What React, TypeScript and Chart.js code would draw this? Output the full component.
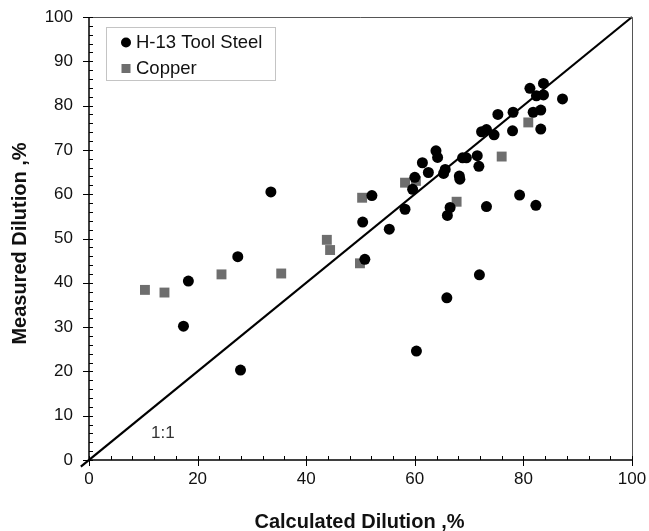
import React, { useEffect, useRef } from "react";
import { Chart, registerables } from "chart.js";

Chart.register(...registerables);

const steelX = [83.7, 81.2, 82.4, 83.7, 87.2, 78.1, 75.3, 81.8, 83.2, 83.2, 78.0, 72.3, 73.2, 74.6, 63.9, 64.2, 68.8, 69.5, 71.5, 71.8, 61.4, 62.5, 65.3, 65.6, 68.2, 68.3, 60.0, 59.6, 79.3, 52.1, 58.2, 66.5, 66.0, 73.2, 82.3, 50.4, 55.3, 50.8, 71.9, 65.9, 60.3, 27.4, 18.3, 17.4, 27.9, 33.5];
const steelY = [85.0, 83.9, 82.2, 82.4, 81.5, 78.5, 78.0, 78.5, 79.0, 74.7, 74.3, 74.1, 74.6, 73.4, 69.8, 68.3, 68.2, 68.2, 68.7, 66.3, 67.1, 64.9, 64.7, 65.6, 64.1, 63.4, 63.8, 61.1, 59.8, 59.7, 56.6, 57.0, 55.2, 57.2, 57.5, 53.7, 52.1, 45.3, 41.8, 36.6, 24.6, 45.9, 40.4, 30.2, 20.3, 60.5];
const copperX = [10.3, 13.9, 24.4, 35.4, 43.8, 44.4, 49.9, 50.3, 58.2, 60.2, 67.7, 76.0, 80.9];
const copperY = [38.4, 37.8, 41.9, 42.1, 49.7, 47.4, 44.4, 59.2, 62.6, 63.0, 58.3, 68.5, 76.2];
const lineX = [-1.5, 100];
const lineY = [-1.5, 100];
const seriesNames = ["H-13 Tool Steel", "Copper"];
const xTitle = "Calculated Dilution ,%";
const yTitle = "Measured Dilution ,%";
const lineLabel = "1:1";
const lineLabelPos = [13.6, 6.1];

const FONT = "'Liberation Sans', Arial, sans-serif";
const COPPER_COLOR = "#6e6e6e";

const zeroPad = (s: any) => {
  s.paddingTop = 0;
  s.paddingBottom = 0;
  s.paddingLeft = 0;
  s.paddingRight = 0;
};

const decor = {
  id: "decor",
  afterDraw(chart: any) {
    const { ctx, chartArea: a, scales } = chart;
    const x = scales.x;
    const y = scales.y;
    ctx.save();
    // frame top / right
    ctx.strokeStyle = "#555";
    ctx.lineWidth = 1;
    ctx.beginPath();
    ctx.moveTo(a.left, a.top + 0.5);
    ctx.lineTo(a.right + 0.5, a.top + 0.5);
    ctx.lineTo(a.right + 0.5, a.bottom);
    ctx.stroke();
    // axes
    ctx.strokeStyle = "#000";
    ctx.lineWidth = 1.5;
    ctx.beginPath();
    ctx.moveTo(a.left, a.top);
    ctx.lineTo(a.left, a.bottom);
    ctx.lineTo(a.right, a.bottom);
    ctx.stroke();
    // ticks
    ctx.lineWidth = 1;
    ctx.beginPath();
    for (let v = 0; v <= 100; v += 4) {
      const px = Math.round(x.getPixelForValue(v)) + 0.5;
      if (v % 20 === 0) {
        ctx.moveTo(px, a.bottom - 4);
        ctx.lineTo(px, a.bottom + 6);
      } else {
        ctx.moveTo(px, a.bottom - 4);
        ctx.lineTo(px, a.bottom);
      }
    }
    for (let v = 0; v <= 100; v += 2) {
      const py = Math.round(y.getPixelForValue(v)) + 0.5;
      if (v % 10 === 0) {
        ctx.moveTo(a.left - 6, py);
        ctx.lineTo(a.left + 4, py);
      } else {
        ctx.moveTo(a.left, py);
        ctx.lineTo(a.left + 4, py);
      }
    }
    ctx.stroke();

    // axis titles
    ctx.fillStyle = "#111";
    ctx.font = `bold 20px ${FONT}`;
    ctx.textAlign = "center";
    ctx.textBaseline = "middle";
    ctx.fillText(xTitle, (a.left + a.right) / 2 - 1, a.bottom + 62);
    ctx.save();
    ctx.translate(20, (a.top + a.bottom) / 2 + 5);
    ctx.rotate(-Math.PI / 2);
    ctx.fillText(yTitle, 0, 0);
    ctx.restore();

    // 1:1 label
    ctx.font = `17px ${FONT}`;
    ctx.fillStyle = "#333";
    ctx.fillText(lineLabel, x.getPixelForValue(lineLabelPos[0]), y.getPixelForValue(lineLabelPos[1]));

    // legend
    const lx = a.left + 17;
    const ly = a.top + 10;
    ctx.strokeStyle = "#888";
    ctx.lineWidth = 1;
    ctx.setLineDash([1, 1]);
    ctx.strokeRect(lx + 0.5, ly + 0.5, 169, 53);
    ctx.setLineDash([]);
    ctx.fillStyle = "#000";
    ctx.beginPath();
    ctx.arc(lx + 20, ly + 15.5, 5, 0, Math.PI * 2);
    ctx.fill();
    ctx.fillStyle = COPPER_COLOR;
    ctx.fillRect(lx + 15.5, ly + 37, 9, 9);
    ctx.fillStyle = "#111";
    ctx.font = `18.5px ${FONT}`;
    ctx.textAlign = "left";
    ctx.fillText(seriesNames[0], lx + 30, ly + 16);
    ctx.fillText(seriesNames[1], lx + 30, ly + 42);
    ctx.restore();
  },
};

export default function App() {
  const ref = useRef<HTMLCanvasElement | null>(null);
  useEffect(() => {
    if (!ref.current) return;
    const chart = new Chart(ref.current, {
      type: "scatter",
      data: {
        datasets: [
          {
            label: "1:1",
            data: lineX.map((v, i) => ({ x: v, y: lineY[i] })),
            showLine: true,
            borderColor: "#000",
            borderWidth: 2.2,
            pointRadius: 0,
            clip: false,
            order: 0,
          } as any,
          {
            label: seriesNames[0],
            data: steelX.map((v, i) => ({ x: v, y: steelY[i] })),
            backgroundColor: "#000",
            borderColor: "#000",
            pointStyle: "circle",
            pointRadius: 5.5,
            borderWidth: 0,
            order: 1,
          },
          {
            label: seriesNames[1],
            data: copperX.map((v, i) => ({ x: v, y: copperY[i] })),
            backgroundColor: COPPER_COLOR,
            borderColor: COPPER_COLOR,
            pointStyle: "rect",
            pointRadius: 7,
            borderWidth: 0,
            order: 2,
          },
        ],
      },
      options: {
        animation: false,
        responsive: true,
        maintainAspectRatio: false,
        layout: { padding: { top: 17, right: 17, left: 0, bottom: 0 } },
        plugins: {
          legend: { display: false },
          tooltip: { enabled: false },
        },
        scales: {
          x: {
            type: "linear",
            min: 0,
            max: 100,
            grid: { display: false, drawTicks: false },
            border: { display: false },
            ticks: {
              stepSize: 20,
              padding: 9,
              color: "#111",
              font: { family: FONT, size: 17 },
            },
            afterFit: (s: any) => {
              s.height = 71;
              zeroPad(s);
            },
          },
          y: {
            type: "linear",
            min: 0,
            max: 100,
            grid: { display: false, drawTicks: false },
            border: { display: false },
            ticks: {
              stepSize: 10,
              padding: 16,
              color: "#111",
              font: { family: FONT, size: 17 },
            },
            afterFit: (s: any) => {
              s.width = 89;
              zeroPad(s);
            },
          },
        },
      },
      plugins: [decor],
    });
    return () => chart.destroy();
  }, []);
  return (
    <div style={{ position: "fixed", left: 0, top: 0, width: "649px", height: "531px" }}>
      <canvas ref={ref} style={{ display: "block" }} />
    </div>
  );
}
